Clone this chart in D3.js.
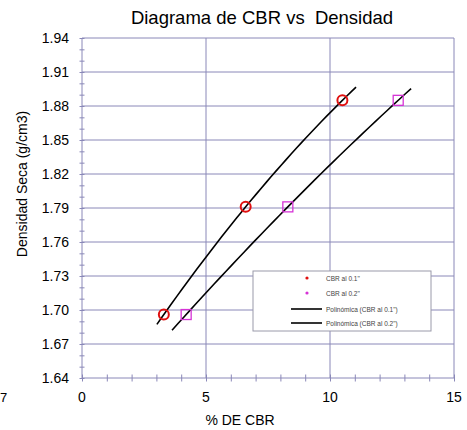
<!DOCTYPE html>
<html>
<head>
<meta charset="utf-8">
<script src="https://cdn.jsdelivr.net/npm/d3@7"></script>
<style>
  body { margin: 0; background: #fff; }
  svg { display: block; font-family: "Liberation Sans", Arial, sans-serif; }
</style>
</head>
<body>
<svg id="chart" width="467" height="430"></svg>
<script>
// data
var cbr01 = [3.3, 6.6, 10.5];
var dens01 = [1.696, 1.791, 1.885];
var cbr02 = [4.2, 8.3, 12.75];
var dens02 = [1.696, 1.791, 1.885];
// trendline extent (forecast backward / forward), in % CBR
var trendRange01 = [3.02, 11.05];
var trendRange02 = [3.63, 13.27];
var yTicks = [1.64, 1.67, 1.70, 1.73, 1.76, 1.79, 1.82, 1.85, 1.88, 1.91, 1.94];
var xTicks = [0, 5, 10, 15];
var legendLabels = ["CBR al 0.1\"", "CBR al 0.2\"", "Polinómica (CBR al 0.1\")", "Polinómica (CBR al 0.2\")"];

var gridColor = "#8a88b8";
var svg = d3.select("#chart");

var x = d3.scaleLinear().domain([0, 15]).range([82, 454]);
var y = d3.scaleLinear().domain([1.64, 1.94]).range([378, 38]);

// quadratic least squares fit, like the spreadsheet's polynomial trendline
function polyFit(xs, ys) {
  var n = xs.length, s = [0, 0, 0, 0, 0], t = [0, 0, 0];
  for (var i = 0; i < n; i++) {
    for (var k = 0; k < 5; k++) s[k] += Math.pow(xs[i], k);
    for (var k = 0; k < 3; k++) t[k] += ys[i] * Math.pow(xs[i], k);
  }
  var A = [[s[0], s[1], s[2], t[0]], [s[1], s[2], s[3], t[1]], [s[2], s[3], s[4], t[2]]];
  for (var c = 0; c < 3; c++) {
    for (var r = c + 1; r < 3; r++) {
      var f = A[r][c] / A[c][c];
      for (var j = c; j < 4; j++) A[r][j] -= f * A[c][j];
    }
  }
  var coef = [0, 0, 0];
  for (var r = 2; r >= 0; r--) {
    var v = A[r][3];
    for (var j = r + 1; j < 3; j++) v -= A[r][j] * coef[j];
    coef[r] = v / A[r][r];
  }
  return function (v) { return coef[0] + coef[1] * v + coef[2] * v * v; };
}

// gridlines
svg.append("g")
  .selectAll("line")
  .data(yTicks)
  .join("line")
  .attr("x1", x(0)).attr("x2", x(15))
  .attr("y1", d => y(d)).attr("y2", d => y(d))
  .attr("stroke", gridColor).attr("stroke-width", 1);

svg.append("g")
  .selectAll("line")
  .data(xTicks)
  .join("line")
  .attr("x1", d => x(d)).attr("x2", d => x(d))
  .attr("y1", y(1.64)).attr("y2", y(1.94))
  .attr("stroke", gridColor).attr("stroke-width", 1);

// axes (minor ticks only, labels drawn below)
var yAxis = d3.axisLeft(y)
  .tickValues(d3.range(1.64, 1.945, 0.01))
  .tickSize(5)
  .tickFormat("");
var gy = svg.append("g").attr("transform", `translate(${x(0) + 2.5},0)`).call(yAxis);
gy.selectAll("line").attr("stroke", gridColor);
gy.select(".domain").remove();

svg.append("g")
  .selectAll("text")
  .data(yTicks)
  .join("text")
  .attr("x", 69).attr("y", d => y(d) + 5)
  .attr("text-anchor", "end")
  .attr("font-size", 14)
  .attr("fill", "#000")
  .text(d => d.toFixed(2));

var xAxis = d3.axisBottom(x)
  .tickValues(d3.range(0, 16, 1))
  .tickSize(7)
  .tickFormat("");
var gx = svg.append("g").attr("transform", `translate(0,${y(1.64) - 3.5})`).call(xAxis);
gx.selectAll("line").attr("stroke", gridColor);
gx.select(".domain").remove();

svg.append("g")
  .selectAll("text")
  .data(xTicks)
  .join("text")
  .attr("x", d => x(d)).attr("y", 402)
  .attr("text-anchor", "middle")
  .attr("font-size", 14)
  .text(d => d);

// stray label at the left edge
svg.append("text").attr("x", 0).attr("y", 402).attr("font-size", 13).text("7");

// trendlines
function trend(xs, ys, range) {
  var f = polyFit(xs, ys);
  var pts = d3.range(0, 41).map(i => {
    var v = range[0] + (range[1] - range[0]) * i / 40;
    return [v, f(v)];
  });
  svg.append("path")
    .datum(pts)
    .attr("fill", "none")
    .attr("stroke", "#000")
    .attr("stroke-width", 1.6)
    .attr("d", d3.line().x(d => x(d[0])).y(d => y(d[1])));
}
trend(cbr01, dens01, trendRange01);
trend(cbr02, dens02, trendRange02);

// markers
svg.append("g")
  .selectAll("circle")
  .data(cbr01.map((c, i) => [c, dens01[i]]))
  .join("circle")
  .attr("cx", d => x(d[0])).attr("cy", d => y(d[1]))
  .attr("r", 5)
  .attr("fill", "none")
  .attr("stroke", "#e01010")
  .attr("stroke-width", 2);

svg.append("g")
  .selectAll("rect")
  .data(cbr02.map((c, i) => [c, dens02[i]]))
  .join("rect")
  .attr("x", d => x(d[0]) - 5).attr("y", d => y(d[1]) - 5)
  .attr("width", 10).attr("height", 10)
  .attr("fill", "none")
  .attr("stroke", "#d633d6")
  .attr("stroke-width", 1.3);

// titles
svg.append("text")
  .attr("x", 262).attr("y", 24)
  .attr("text-anchor", "middle")
  .attr("font-size", 18.5)
  .attr("xml:space", "preserve")
  .text("Diagrama de CBR vs  Densidad");

svg.append("text")
  .attr("x", 240).attr("y", 425)
  .attr("text-anchor", "middle")
  .attr("font-size", 14)
  .text("% DE CBR");

svg.append("text")
  .attr("transform", "translate(27,184) rotate(-90)")
  .attr("text-anchor", "middle")
  .attr("font-size", 14)
  .text("Densidad Seca (g/cm3)");

// legend
var lg = svg.append("g").attr("transform", "translate(253,271)");
lg.append("rect")
  .attr("width", 178).attr("height", 60)
  .attr("fill", "#fff")
  .attr("stroke", "#9a9aaa").attr("stroke-width", 1);

var rowY = [7, 22, 38, 52];
lg.append("circle").attr("cx", 54).attr("cy", rowY[0]).attr("r", 1.6).attr("fill", "#e01010");
lg.append("circle").attr("cx", 54).attr("cy", rowY[1]).attr("r", 1.6).attr("fill", "#d633d6");
lg.append("line").attr("x1", 38).attr("x2", 69).attr("y1", rowY[2]).attr("y2", rowY[2]).attr("stroke", "#000").attr("stroke-width", 1.6);
lg.append("line").attr("x1", 38).attr("x2", 69).attr("y1", rowY[3]).attr("y2", rowY[3]).attr("stroke", "#000").attr("stroke-width", 1.6);

lg.selectAll("text.lab")
  .data(legendLabels)
  .join("text")
  .attr("class", "lab")
  .attr("x", 73).attr("y", (d, i) => rowY[i] + 2.5)
  .attr("font-size", 6.5)
  .attr("fill", "#444")
  .text(d => d);
</script>
</body>
</html>
